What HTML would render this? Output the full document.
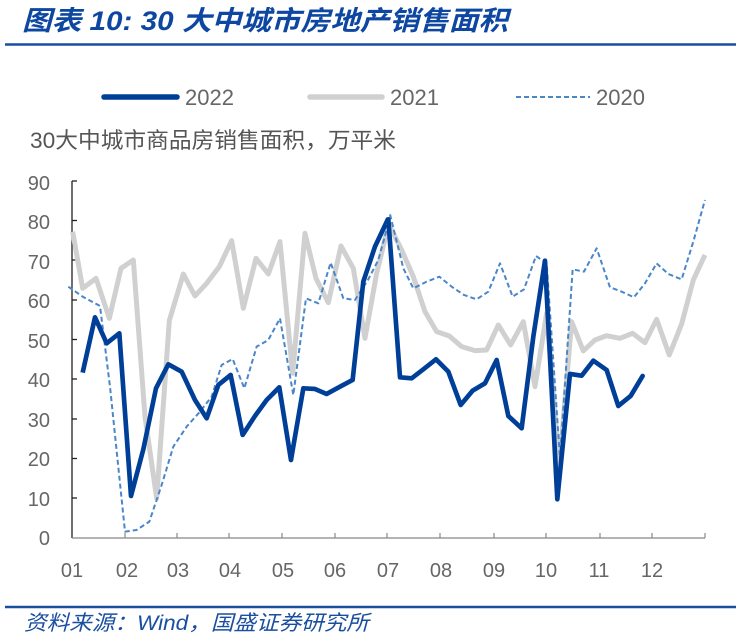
<!DOCTYPE html>
<html><head><meta charset="utf-8"><style>
html,body{margin:0;padding:0;background:#fff;}
svg{display:block;}
</style></head><body>
<svg width="740" height="641" viewBox="0 0 740 641" xmlns="http://www.w3.org/2000/svg">
<text x="22" y="30" font-family="Liberation Sans, Noto Sans CJK SC, sans-serif" font-size="27" font-style="italic" font-weight="bold" fill="#0d47a1" textLength="486" lengthAdjust="spacingAndGlyphs">图表 10:  30 大中城市房地产销售面积</text>
<line x1="5" y1="44.5" x2="736" y2="44.5" stroke="#1a4fa0" stroke-width="2.5"/>
<g font-family="Liberation Sans, sans-serif" font-size="22" fill="#666">
<line x1="104" y1="97" x2="177" y2="97" stroke="#003f98" stroke-width="5.5" stroke-linecap="round"/>
<text x="185" y="105">2022</text>
<line x1="310" y1="97" x2="382" y2="97" stroke="#d0d0d0" stroke-width="5.5" stroke-linecap="round"/>
<text x="390" y="105">2021</text>
<line x1="516" y1="97" x2="590" y2="97" stroke="#4a86c8" stroke-width="2" stroke-dasharray="5 3"/>
<text x="596" y="105">2020</text>
</g>
<text x="30" y="148" font-family="Liberation Sans, Noto Sans CJK SC, sans-serif" font-size="22" fill="#555" textLength="366" lengthAdjust="spacingAndGlyphs">30大中城市商品房销售面积，万平米</text>
<g font-family="Liberation Sans, sans-serif" font-size="20" fill="#666" text-anchor="end">
<text x="50" y="545">0</text><text x="50" y="506">10</text><text x="50" y="466">20</text><text x="50" y="427">30</text><text x="50" y="387">40</text><text x="50" y="348">50</text><text x="50" y="308">60</text><text x="50" y="269">70</text><text x="50" y="229">80</text><text x="50" y="190">90</text>
</g>
<g stroke="#222" stroke-width="1.3">
<line x1="72" y1="181" x2="72" y2="538"/>
<line x1="72" y1="181" x2="77" y2="181"/><line x1="72" y1="220.5" x2="77" y2="220.5"/><line x1="72" y1="260" x2="77" y2="260"/><line x1="72" y1="300" x2="77" y2="300"/><line x1="72" y1="339.5" x2="77" y2="339.5"/><line x1="72" y1="379" x2="77" y2="379"/><line x1="72" y1="419" x2="77" y2="419"/><line x1="72" y1="458.5" x2="77" y2="458.5"/><line x1="72" y1="498" x2="77" y2="498"/>
</g>
<g stroke="#888" stroke-width="1.2">
<line x1="72" y1="538" x2="705" y2="538"/>
<line x1="125" y1="533" x2="125" y2="538"/><line x1="177" y1="533" x2="177" y2="538"/><line x1="229" y1="533" x2="229" y2="538"/><line x1="282" y1="533" x2="282" y2="538"/><line x1="335" y1="533" x2="335" y2="538"/><line x1="387" y1="533" x2="387" y2="538"/><line x1="440" y1="533" x2="440" y2="538"/><line x1="494" y1="533" x2="494" y2="538"/><line x1="546" y1="533" x2="546" y2="538"/><line x1="600" y1="533" x2="600" y2="538"/><line x1="652" y1="533" x2="652" y2="538"/><line x1="705" y1="533" x2="705" y2="538"/>
</g>
<g font-family="Liberation Sans, sans-serif" font-size="20" fill="#666" text-anchor="middle">
<text x="72" y="577">01</text><text x="127" y="577">02</text><text x="178" y="577">03</text><text x="230" y="577">04</text><text x="283" y="577">05</text><text x="335" y="577">06</text><text x="388" y="577">07</text><text x="441" y="577">08</text><text x="494" y="577">09</text><text x="546" y="577">10</text><text x="599" y="577">11</text><text x="652" y="577">12</text>
</g>
<g fill="none" stroke-linejoin="round">
<g transform="translate(60,170) scale(0.3333)">
<polyline stroke="#d0d0d0" stroke-width="15" points="38,185 68,355 108,325 148,445 183,295 220,270 255,740 290,985 328,452 370,312 405,378 440,340 478,290 515,212 550,415 588,265 625,312 660,215 698,610 735,190 768,325 805,398 843,228 880,295 915,505 950,310 988,155"/>
<polyline stroke="#4a86c8" stroke-width="6" stroke-dasharray="15 9" points="25,350 68,380 120,408 150,650 195,1085 230,1080 268,1055 305,945 340,830 380,770 420,725 455,680 485,585 518,567 553,655 590,530 625,510 660,445 700,675 738,385 775,400 812,278 850,385 885,390 925,328 955,270 993,133"/>
<polyline stroke="#003f98" stroke-width="14" points="68,608 105,442 140,520 178,490 213,978 250,838 288,655 325,583 365,605 405,690 440,745 475,645 512,615 548,795 585,738 620,690 658,652 693,870 730,655 765,657 800,672 840,650 878,630 910,335 945,230 985,145"/>
</g>
<g transform="translate(380,170) scale(0.3333)">
<polyline stroke="#d0d0d0" stroke-width="15" points="25,160 65,240 100,320 135,425 170,485 208,498 245,530 285,542 320,540 355,465 392,525 430,455 465,650 500,430 538,890 575,455 610,543 645,510 680,497 720,505 758,490 795,518 830,448 868,555 905,462 940,330 975,255"/>
<polyline stroke="#4a86c8" stroke-width="6" stroke-dasharray="15 9" points="30,133 70,295 100,355 140,335 178,320 215,350 252,375 290,388 325,365 360,280 398,380 432,358 468,258 500,280 540,865 578,298 612,305 650,235 690,352 725,365 762,382 795,340 830,280 865,312 905,328 940,215 975,90"/>
<polyline stroke="#003f98" stroke-width="14" stroke-linecap="round" points="25,148 60,622 95,625 130,598 168,568 205,605 242,705 278,662 315,640 350,570 385,738 425,775 460,500 495,272 532,988 570,612 605,617 640,572 680,600 715,708 752,678 788,618"/>
</g>
</g>
<line x1="5" y1="607" x2="736" y2="607" stroke="#1a4fa0" stroke-width="2.5"/>
<text x="24" y="630" font-family="Liberation Sans, Noto Sans CJK SC, sans-serif" font-size="21" font-style="italic" fill="#1a4fa0" textLength="345" lengthAdjust="spacingAndGlyphs">资料来源：Wind，国盛证券研究所</text>
</svg>
</body></html>
